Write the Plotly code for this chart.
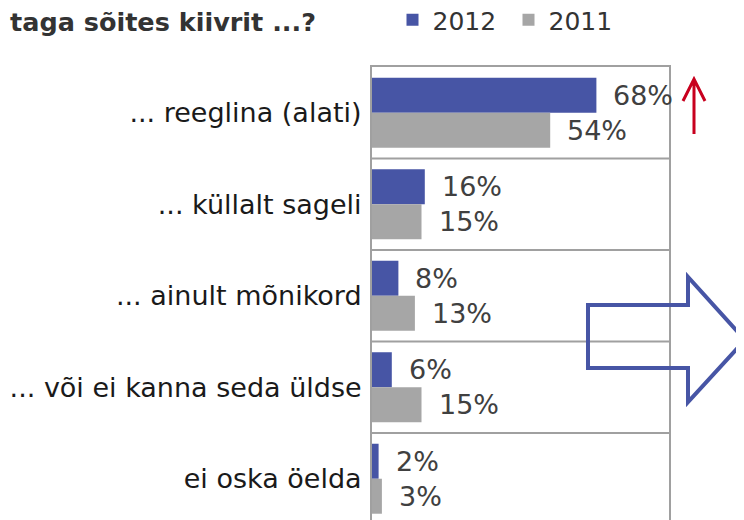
import plotly.graph_objects as go

# ---- data ----
categories = ["... reeglina (alati)", "... küllalt sageli", "... ainult mõnikord",
              "... või ei kanna seda üldse", "ei oska öelda"]
values_2012 = [68, 16, 8, 6, 2]
values_2011 = [54, 15, 13, 15, 3]
series_names = ["2012", "2011"]
title_text = "taga sõites kiivrit ...?"

BLUE = "#4755A5"
GRAY = "#A6A6A6"
LINE = "#A0A0A0"
FONT = "DejaVu Sans"
OFF = 8            # page body margin
W, H = 744 - OFF, 520 - OFF


def px(xs):
    """screen x pixel -> paper fraction"""
    return (xs - OFF) / W


def py(ys):
    """screen y pixel -> paper fraction"""
    return 1 - (ys - OFF) / H


fig = go.Figure()
fig.add_bar(y=categories, x=values_2012, orientation="h", name=series_names[0],
            marker=dict(color=BLUE, line_width=0))
fig.add_bar(y=categories, x=values_2011, orientation="h", name=series_names[1],
            marker=dict(color=GRAY, line_width=0))

annotations = []
for vals, shift in ((values_2012, 17.5), (values_2011, -17.5)):
    for cat, v in zip(categories, vals):
        annotations.append(dict(x=v, y=cat, xref="x", yref="y", text=f"{v}%", showarrow=False,
                                xanchor="left", yanchor="middle", xshift=15, yshift=shift,
                                font=dict(family=FONT, size=27, color="#404040")))
annotations.append(dict(x=px(8), y=py(22), xref="paper", yref="paper", xanchor="left",
                        yanchor="middle", showarrow=False, text=f"<b>{title_text}</b>",
                        font=dict(family=FONT, size=25.5, color="#333333")))

shapes = []
for k in range(len(categories) - 1):
    shapes.append(dict(type="line", xref="x domain", x0=0, x1=1, yref="y", y0=k + 0.5, y1=k + 0.5,
                       line=dict(color=LINE, width=2)))


def path(points, close=False):
    s = " ".join(("M" if i == 0 else "L") + f" {px(x):.5f} {py(y):.5f}" for i, (x, y) in enumerate(points))
    return s + (" Z" if close else "")


# red up arrow
red_path = path([(694, 134), (694, 80)]) + " " + path([(683, 101), (694, 79), (705, 101)])
shapes.append(dict(type="path", xref="paper", yref="paper", path=red_path,
                   line=dict(color="#C8001E", width=3)))
# blue hollow right arrow
blue_path = path([(588, 305), (688, 305), (688, 277), (745, 340), (688, 402), (688, 368), (588, 368)], close=True)
shapes.append(dict(type="path", xref="paper", yref="paper", path=blue_path,
                   line=dict(color=BLUE, width=4), fillcolor="rgba(0,0,0,0)"))

n = len(categories)
fig.update_layout(
    width=W, height=H,
    margin=dict(l=0, r=0, t=0, b=0, autoexpand=False),
    paper_bgcolor="white", plot_bgcolor="white",
    barmode="group", bargap=0.235, bargroupgap=0,
    font=dict(family=FONT),
    xaxis=dict(domain=[px(372), px(669)], range=[0, 90], showgrid=False, zeroline=False,
               showticklabels=False, showline=True, linecolor=LINE, linewidth=2, side="top",
               automargin=False, fixedrange=True),
    yaxis=dict(domain=[0, py(67)], type="category", range=[n - 0.549, -0.5], showgrid=False,
               zeroline=False, showline=True, mirror=True, linecolor=LINE, linewidth=2,
               ticks="", ticklabelstandoff=3, automargin=False,
               tickfont=dict(family=FONT, size=27, color="#1a1a1a")),
    showlegend=True,
    legend=dict(orientation="h", x=px(392.5), xanchor="left", y=py(20), yanchor="middle",
                font=dict(family=FONT, size=25, color="#333333"), bgcolor="rgba(0,0,0,0)",
                traceorder="normal", entrywidth=71, entrywidthmode="pixels"),
    annotations=annotations,
    shapes=shapes,
)

fig.write_html("out.html")
